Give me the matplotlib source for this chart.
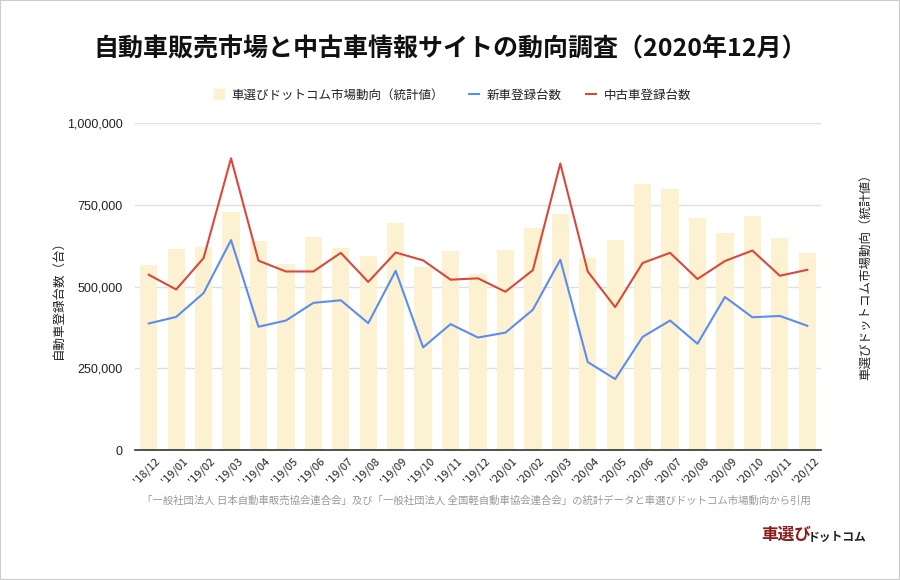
import matplotlib
matplotlib.use('Agg')
import matplotlib.pyplot as plt
import matplotlib.transforms as mtransforms
from matplotlib.ticker import FuncFormatter, MultipleLocator
from matplotlib.patches import Rectangle

plt.rcParams['font.family'] = ['Noto Sans CJK JP', 'DejaVu Sans']

# データ
months = ["'18/12", "'19/01", "'19/02", "'19/03", "'19/04", "'19/05", "'19/06",
          "'19/07", "'19/08", "'19/09", "'19/10", "'19/11", "'19/12",
          "'20/01", "'20/02", "'20/03", "'20/04", "'20/05", "'20/06",
          "'20/07", "'20/08", "'20/09", "'20/10", "'20/11", "'20/12"]

# 車選びドットコム市場動向（統計値） - 右軸（目盛り非表示）
market = [567000, 614000, 621000, 728000, 639000, 570000, 651000, 619000, 592000,
          693000, 560000, 609000, 539000, 611000, 678000, 722000, 588000, 641000,
          814000, 798000, 710000, 663000, 716000, 649000, 602000]

# 新車登録台数
new_cars = [387000, 407000, 480000, 642000, 377000, 396000, 450000, 458000, 388000,
            548000, 314000, 385000, 344000, 359000, 429000, 582000, 269000, 217000,
            346000, 396000, 325000, 468000, 406000, 410000, 380000]

# 中古車登録台数
used_cars = [536000, 491000, 587000, 892000, 579000, 546000, 546000, 603000, 514000,
             604000, 580000, 521000, 525000, 484000, 550000, 876000, 546000, 437000,
             572000, 603000, 523000, 578000, 610000, 533000, 551000]

bar_color = '#fcf1d0'
blue = '#5b8def'
red = '#d9483b'

fig = plt.figure(figsize=(9, 5.8), dpi=100)
fig.patches.append(Rectangle((0, 0), 1, 1, transform=fig.transFigure,
                             fill=False, edgecolor='#cccccc', linewidth=1.5))

ax = fig.add_axes([0.15, 0.2241, 0.7622, 0.5638])
ax2 = ax.twinx()

x = list(range(len(months)))

# 棒グラフ（背面）
ax2.bar(x, market, width=0.63, color=bar_color, zorder=2)
ax2.set_ylim(0, 1000000)
ax2.yaxis.set_major_locator(MultipleLocator(250000))
ax2.grid(axis='y', color='#e0e0e0', linewidth=1, zorder=0)
ax2.set_axisbelow(True)
ax2.tick_params(axis='y', length=0, labelright=False)
for s in ax2.spines.values():
    s.set_visible(False)
ax2.set_ylabel('車選びドットコム市場動向（統計値）', fontsize=9, color='#222222',
               labelpad=0)
ax2.yaxis.set_label_coords(1.055, 0.54)

# 折れ線（前面）
ax.set_zorder(ax2.get_zorder() + 1)
ax.patch.set_visible(False)
ax.plot(x, new_cars, color=blue, linewidth=1.5, label='新車登録台数')
ax.plot(x, used_cars, color=red, linewidth=1.5, label='中古車登録台数')
ax.set_ylim(0, 1000000)
ax.set_xlim(-0.5, len(months) - 0.5)
ax.yaxis.set_major_locator(MultipleLocator(250000))
ax.yaxis.set_major_formatter(FuncFormatter(lambda v, p: f'{int(v):,}'))
ax.tick_params(axis='y', length=0, pad=9, labelsize=9, labelcolor='#222222')
for lbl in ax.get_yticklabels():
    lbl.set_family(['Liberation Sans', 'DejaVu Sans'])
ax.set_xticks(x)
ax.set_xticklabels(months, rotation=45, ha='right', rotation_mode='anchor',
                   fontsize=8, color='#222222')
ax.tick_params(axis='x', length=0, pad=3)
shift = mtransforms.ScaledTranslation(0.06, -0.02, fig.dpi_scale_trans)
for lbl in ax.get_xticklabels():
    lbl.set_transform(lbl.get_transform() + shift)
for name in ['top', 'right', 'left']:
    ax.spines[name].set_visible(False)
ax.spines['bottom'].set_color('#333333')
ax.spines['bottom'].set_linewidth(1.2)
ax.set_ylabel('自動車登録台数（台）', fontsize=9, color='#222222')
ax.yaxis.set_label_coords(-0.103, 0.47)

# 凡例
handles = [Rectangle((0, 0), 1, 1, color=bar_color)] + ax.get_lines()
labels = ['車選びドットコム市場動向（統計値）', '新車登録台数', '中古車登録台数']
fig.legend(handles, labels, loc='center', bbox_to_anchor=(0.503, 0.836), ncol=3,
           frameon=False, fontsize=9, handlelength=0.8, handleheight=0.8,
           handletextpad=0.6, columnspacing=2.0, labelcolor='#222222')

fig.text(0.5, 0.915, '自動車販売市場と中古車情報サイトの動向調査（2020年12月）',
         ha='center', va='center', fontsize=18, fontweight='bold', color='#111111')

fig.text(0.529, 0.136,
         '「一般社団法人 日本自動車販売協会連合会」及び「一般社団法人 全国軽自動車協会連合会」の統計データと車選びドットコム市場動向から引用',
         ha='center', va='center', fontsize=7.5, color='#999999')

# ロゴ
fig.text(0.846, 0.077, '車選び', ha='left', va='center', fontsize=12,
         fontweight='bold', color='#8b1c1c')
fig.text(0.897, 0.073, 'ドットコム', ha='left', va='center', fontsize=8.5,
         fontweight='bold', color='#222222')

fig.savefig('out.png', dpi=100)
